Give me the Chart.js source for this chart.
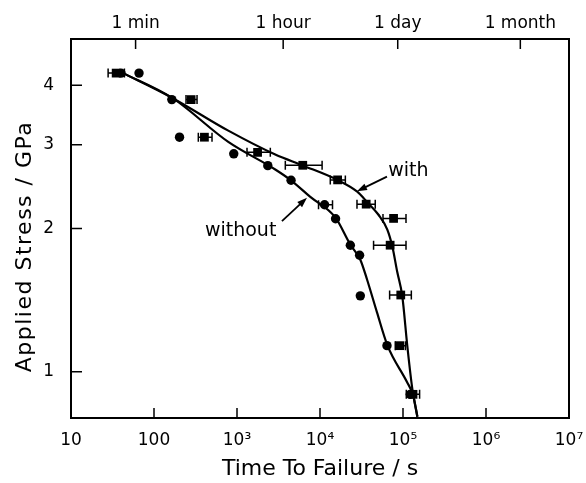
<!DOCTYPE html>
<html>
<head>
<meta charset="utf-8">
<script src="https://cdn.jsdelivr.net/npm/chart.js@4/dist/chart.umd.min.js"></script>
<style>
  html, body { margin: 0; padding: 0; background: #fff; }
  canvas { display: block; }
</style>
</head>
<body>
<canvas id="stressChart" width="586" height="483"></canvas>
<script>
/* Time to failure vs applied stress */

// squares: "with"
const withTime = [35, 280, 405, 1770, 6200, 16300, 36000, 77000, 70000, 94000, 91000, 132000];
const withStress = [4.24, 3.73, 3.11, 2.89, 2.715, 2.53, 2.25, 2.10, 1.845, 1.45, 1.135, 0.897];
const withErrLo = [28, 243, 342, 1320, 3820, 13300, 27900, 57400, 44200, 69000, 80700, 109600];
const withErrHi = [44, 330, 500, 2520, 10600, 20200, 46300, 108700, 108700, 126000, 106700, 158500];

// circles: "without"
const withoutTime = [40, 66, 164, 203, 914, 2350, 4480, 11350, 15400, 23200, 30000, 30600, 64100, 122400];
const withoutStress = [4.24, 4.24, 3.73, 3.11, 2.87, 2.71, 2.525, 2.243, 2.097, 1.844, 1.757, 1.444, 1.135, 0.897];
const withoutErrLo = [null, null, null, null, null, null, null, 9600, null, null, null, null, null, null];
const withoutErrHi = [null, null, null, null, null, null, null, 14150, null, null, null, null, null, null];

// fitted curves
const withFitTime = [40, 166, 785, 2890, 6300, 16200, 28100, 37200, 50400, 64700, 74300, 85300, 98100, 112700, 129500, 149000];
const withFitStress = [4.26, 3.76, 3.21, 2.86, 2.71, 2.53, 2.39, 2.27, 2.14, 1.99, 1.835, 1.62, 1.44, 1.133, 0.921, 0.805];
const withoutFitTime = [40, 166, 785, 2890, 4390, 7640, 15300, 23200, 30600, 36800, 48600, 65100, 111700, 133000, 149000];
const withoutFitStress = [4.26, 3.76, 3.04, 2.66, 2.53, 2.33, 2.11, 1.85, 1.72, 1.565, 1.333, 1.135, 0.952, 0.891, 0.805];

// axes
const timeTicks = [10, 100, 1e3, 1e4, 1e5, 1e6, 1e7];
const timeTickLabels = ["10", "100", "10³", "10⁴", "10⁵", "10⁶", "10⁷"];
const unitTicks = [60, 3600, 86400, 2592000];
const unitTickLabels = ["1 min", "1 hour", "1 day", "1 month"];
const stressTicks = [1, 2, 3, 4];
const stressTickLabels = ["1", "2", "3", "4"];

const FONT = "'DejaVu Sans', sans-serif";

const toPoints = (xs, ys) => xs.map((x, i) => ({ x, y: ys[i] }));
const fixedTicks = (values) => (scale) => { scale.ticks = values.map((value) => ({ value })); };
const labelFor = (values, labels) => (value) => labels[values.indexOf(value)] ?? "";
// fixed axis size, and no extra room for the end labels
const fixSize = (prop, size) => (s) => { s[prop] = size; s.paddingLeft = 0; s.paddingRight = 0; };

const notes = [
  { text: "with", x: 66500, y: 2.634, align: "left", from: [64100, 2.57], to: [27900, 2.395] },
  { text: "without", x: 2980, y: 1.972, align: "right", from: [3480, 2.073], to: [6970, 2.32] },
];

const errorBarPlugin = {
  id: "errorBars",
  afterDatasetsDraw(chart) {
    const { ctx, scales } = chart;
    ctx.save();
    ctx.strokeStyle = "#000";
    ctx.lineWidth = 1.5;
    chart.data.datasets.forEach((ds, i) => {
      if (!ds.errLo) return;
      const meta = chart.getDatasetMeta(i);
      meta.data.forEach((pt, j) => {
        if (ds.errLo[j] == null) return;
        const x1 = scales.x.getPixelForValue(ds.errLo[j]);
        const x2 = scales.x.getPixelForValue(ds.errHi[j]);
        ctx.beginPath();
        ctx.moveTo(x1, pt.y); ctx.lineTo(x2, pt.y);
        ctx.moveTo(x1, pt.y - 4.5); ctx.lineTo(x1, pt.y + 4.5);
        ctx.moveTo(x2, pt.y - 4.5); ctx.lineTo(x2, pt.y + 4.5);
        ctx.stroke();
      });
    });
    ctx.restore();
  },
};

const framePlugin = {
  id: "frame",
  afterDraw(chart) {
    const { ctx, chartArea: a, scales } = chart;
    ctx.save();
    ctx.strokeStyle = "#000";
    ctx.fillStyle = "#000";
    ctx.lineWidth = 2;
    ctx.strokeRect(a.left, a.top, a.right - a.left, a.bottom - a.top);

    // inward tick marks
    ctx.lineWidth = 1.5;
    ctx.beginPath();
    scales.x.ticks.forEach((t) => {
      const px = scales.x.getPixelForValue(t.value);
      ctx.moveTo(px, a.bottom); ctx.lineTo(px, a.bottom - 10);
    });
    scales.x2.ticks.forEach((t) => {
      const px = scales.x2.getPixelForValue(t.value);
      ctx.moveTo(px, a.top); ctx.lineTo(px, a.top + 10);
    });
    scales.y.ticks.forEach((t) => {
      const py = scales.y.getPixelForValue(t.value);
      ctx.moveTo(a.left, py); ctx.lineTo(a.left + 11, py);
    });
    ctx.stroke();

    // labels with arrows
    ctx.font = "19px " + FONT;
    ctx.textBaseline = "middle";
    notes.forEach((n) => {
      ctx.textAlign = n.align;
      ctx.fillText(n.text, scales.x.getPixelForValue(n.x), scales.y.getPixelForValue(n.y));
      const x0 = scales.x.getPixelForValue(n.from[0]), y0 = scales.y.getPixelForValue(n.from[1]);
      const x1 = scales.x.getPixelForValue(n.to[0]), y1 = scales.y.getPixelForValue(n.to[1]);
      const ang = Math.atan2(y1 - y0, x1 - x0);
      ctx.lineWidth = 1.8;
      ctx.beginPath();
      ctx.moveTo(x0, y0); ctx.lineTo(x1 - 6 * Math.cos(ang), y1 - 6 * Math.sin(ang));
      ctx.stroke();
      ctx.beginPath();
      ctx.moveTo(x1, y1);
      ctx.lineTo(x1 - 10 * Math.cos(ang) + 3.5 * Math.sin(ang), y1 - 10 * Math.sin(ang) - 3.5 * Math.cos(ang));
      ctx.lineTo(x1 - 10 * Math.cos(ang) - 3.5 * Math.sin(ang), y1 - 10 * Math.sin(ang) + 3.5 * Math.cos(ang));
      ctx.closePath();
      ctx.fill();
    });

    // y axis title
    ctx.font = "22px " + FONT;
    ctx.textAlign = "center";
    ctx.letterSpacing = "1.5px";
    ctx.translate(25, (a.top + a.bottom) / 2 + 18);
    ctx.rotate(-Math.PI / 2);
    ctx.fillText("Applied Stress / GPa", 0, 0);
    ctx.restore();
  },
};

new Chart(document.getElementById("stressChart"), {
  type: "scatter",
  data: {
    datasets: [
      { label: "with", data: toPoints(withTime, withStress), errLo: withErrLo, errHi: withErrHi,
        pointStyle: "rect", pointRadius: 6.2, backgroundColor: "#000", borderColor: "#000", borderWidth: 0 },
      { label: "without", data: toPoints(withoutTime, withoutStress), errLo: withoutErrLo, errHi: withoutErrHi,
        pointStyle: "circle", pointRadius: 4.7, backgroundColor: "#000", borderColor: "#000", borderWidth: 0 },
      { label: "with fit", data: toPoints(withFitTime, withFitStress), showLine: true, pointRadius: 0,
        borderColor: "#000", borderWidth: 2.2, cubicInterpolationMode: "monotone" },
      { label: "without fit", data: toPoints(withoutFitTime, withoutFitStress), showLine: true, pointRadius: 0,
        borderColor: "#000", borderWidth: 2.2, cubicInterpolationMode: "monotone" },
    ],
  },
  options: {
    responsive: false,
    animation: false,
    layout: { padding: { left: 0, right: 17, top: 0, bottom: 0 } },
    plugins: { legend: { display: false }, tooltip: { enabled: false } },
    scales: {
      x: {
        type: "logarithmic", position: "bottom", min: 10, max: 1e7,
        afterBuildTicks: fixedTicks(timeTicks),
        afterFit: fixSize("height", 65),
        grid: { display: false, drawTicks: false },
        border: { display: false },
        ticks: { color: "#000", font: { family: FONT, size: 17 }, padding: 12, maxRotation: 0, autoSkip: false,
          callback: labelFor(timeTicks, timeTickLabels) },
        title: { display: true, text: "Time To Failure / s", color: "#000", font: { family: FONT, size: 22 }, padding: { top: 2, bottom: 1 } },
      },
      x2: {
        type: "logarithmic", position: "top", min: 10, max: 1e7,
        afterBuildTicks: fixedTicks(unitTicks),
        afterFit: fixSize("height", 39),
        grid: { display: false, drawTicks: false },
        border: { display: false },
        ticks: { color: "#000", font: { family: FONT, size: 17 }, padding: 5, maxRotation: 0, autoSkip: false,
          callback: labelFor(unitTicks, unitTickLabels) },
      },
      y: {
        type: "logarithmic", position: "left", min: 0.8, max: 5,
        afterBuildTicks: fixedTicks(stressTicks),
        afterFit: (s) => { s.width = 71; s.paddingTop = 0; s.paddingBottom = 0; },
        grid: { display: false, drawTicks: false },
        border: { display: false },
        ticks: { color: "#000", font: { family: FONT, size: 17 }, padding: 17,
          callback: labelFor(stressTicks, stressTickLabels) },
      },
    },
  },
  plugins: [errorBarPlugin, framePlugin],
});
</script>
</body>
</html>
